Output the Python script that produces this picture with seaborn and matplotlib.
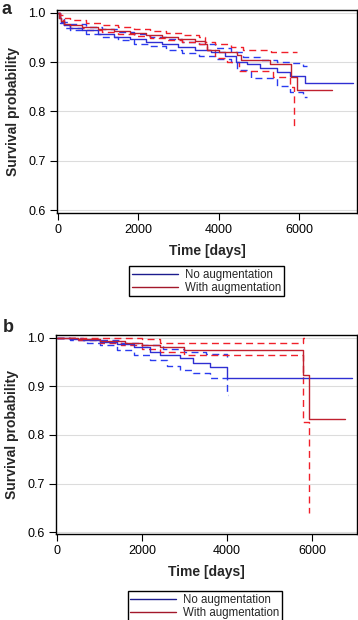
import numpy as np
import pandas as pd
import matplotlib
matplotlib.use("Agg")
import matplotlib.pyplot as plt
from matplotlib.lines import Line2D
import seaborn as sns

# ---------------- data (Kaplan-Meier steps) ----------------
# Panel a
a_no_t = [0, 30, 80, 150, 300, 600, 1000, 1400, 1800, 2200, 2600, 3000, 3400, 3800, 4150, 4440, 4700, 5030, 5450, 5780, 6150, 7350]
a_no_s = [1.0, 0.99, 0.982, 0.975, 0.970, 0.965, 0.958, 0.952, 0.947, 0.941, 0.936, 0.930, 0.925, 0.92, 0.913, 0.901, 0.896, 0.888, 0.881, 0.872, 0.858, 0.858]
a_no_up_t = [0, 50, 150, 300, 700, 1100, 1500, 1900, 2300, 2700, 3100, 3500, 3900, 4300, 4600, 5030, 5450, 5780, 6100, 6200]
a_no_up_s = [1.0, 0.99, 0.982, 0.977, 0.972, 0.967, 0.962, 0.957, 0.952, 0.947, 0.942, 0.937, 0.929, 0.921, 0.911, 0.905, 0.9, 0.898, 0.892, 0.892]
a_no_lo_t = [0, 50, 150, 300, 700, 1100, 1500, 1900, 2300, 2700, 3100, 3500, 3900, 4300, 4450, 4800, 5450, 5780, 6100, 6200]
a_no_lo_s = [1.0, 0.98, 0.97, 0.965, 0.958, 0.952, 0.945, 0.938, 0.932, 0.925, 0.918, 0.912, 0.906, 0.9, 0.884, 0.869, 0.852, 0.84, 0.829, 0.829]
a_aug_t = [0, 30, 80, 150, 300, 600, 1000, 1400, 1800, 2200, 2600, 3000, 3400, 3650, 3700, 4000, 4450, 4550, 5280, 5800, 5950, 6820]
a_aug_s = [1.0, 0.99, 0.983, 0.978, 0.975, 0.971, 0.967, 0.963, 0.959, 0.955, 0.951, 0.947, 0.943, 0.938, 0.925, 0.92, 0.915, 0.905, 0.896, 0.871, 0.843, 0.843]
a_aug_up_t = [0, 50, 150, 300, 700, 1100, 1500, 1900, 2300, 2700, 3100, 3500, 3650, 3900, 4300, 4600, 5300, 5950]
a_aug_up_s = [1.0, 0.996, 0.99, 0.985, 0.98, 0.976, 0.972, 0.968, 0.964, 0.96, 0.956, 0.952, 0.942, 0.937, 0.93, 0.925, 0.921, 0.921]
a_aug_lo_t = [0, 50, 150, 300, 700, 1100, 1500, 1900, 2300, 2700, 3100, 3500, 3700, 3900, 4200, 4500, 5350, 5780, 5870]
a_aug_lo_s = [1.0, 0.985, 0.975, 0.97, 0.966, 0.962, 0.958, 0.954, 0.950, 0.946, 0.942, 0.937, 0.925, 0.908, 0.9, 0.882, 0.87, 0.85, 0.77]

# Panel b
b_no_t = [0, 300, 600, 1000, 1400, 1800, 2200, 2420, 2900, 3200, 3600, 4000, 6940]
b_no_s = [1.0, 0.998, 0.995, 0.992, 0.987, 0.982, 0.972, 0.965, 0.958, 0.948, 0.941, 0.917, 0.917]
b_no_up_t = [0, 600, 1000, 1500, 2000, 2500, 3000, 3500, 4000]
b_no_up_s = [1.0, 0.998, 0.995, 0.99, 0.985, 0.978, 0.972, 0.966, 0.96]
b_no_lo_t = [0, 300, 700, 1000, 1400, 1800, 2200, 2600, 2900, 3200, 3600, 4000, 4020]
b_no_lo_s = [1.0, 0.995, 0.99, 0.985, 0.975, 0.965, 0.955, 0.942, 0.934, 0.928, 0.917, 0.882, 0.882]
b_aug_t = [0, 500, 1000, 1600, 2000, 2430, 3000, 5790, 5930, 6780]
b_aug_s = [1.0, 0.998, 0.993, 0.99, 0.986, 0.982, 0.975, 0.924, 0.832, 0.832]
b_aug_up_t = [0, 1000, 2000, 2430, 5790, 5930]
b_aug_up_s = [1.0, 0.999, 0.997, 0.99, 1.0, 1.0]
b_aug_lo_t = [0, 500, 1000, 1500, 2000, 2430, 3000, 5790, 5930, 5940]
b_aug_lo_s = [1.0, 0.995, 0.99, 0.985, 0.978, 0.972, 0.965, 0.826, 0.64, 0.64]

group_labels = ["No augmentation", "With augmentation"]
y_ticks = [0.6, 0.7, 0.8, 0.9, 1.0]
x_ticks = [0, 2000, 4000, 6000]

# ---------------- styling ----------------
sns.set_theme(style="white")
plt.rcParams["font.family"] = ["Liberation Sans", "DejaVu Sans"]

BLUE = "#2f2fd2"
BLUE_D = "#2a3cf0"
RED = "#c0202e"
RED_D = "#f0202a"
DASH = (0, (5, 3.2))

fig = plt.figure(figsize=(3.58, 6.2), dpi=100)
ax_a = fig.add_axes([57 / 358, 1 - 212.5 / 620, 300 / 358, 202.5 / 620])
ax_b = fig.add_axes([56 / 358, 1 - 534 / 620, 301 / 358, 199 / 620])


def draw(ax, series):
    for t, s, col, ls in series:
        df = pd.DataFrame({"t": t, "s": s})
        sns.lineplot(data=df, x="t", y="s", ax=ax, estimator=None, sort=False,
                     drawstyle="steps-post", color=col, linestyle=ls, linewidth=1.0)


draw(ax_a, [
    (a_no_up_t, a_no_up_s, BLUE_D, DASH),
    (a_no_lo_t, a_no_lo_s, BLUE_D, DASH),
    (a_aug_up_t, a_aug_up_s, RED_D, DASH),
    (a_aug_lo_t, a_aug_lo_s, RED_D, DASH),
    (a_no_t, a_no_s, BLUE, "-"),
    (a_aug_t, a_aug_s, RED, "-"),
])
draw(ax_b, [
    (b_no_up_t, b_no_up_s, BLUE_D, DASH),
    (b_no_lo_t, b_no_lo_s, BLUE_D, DASH),
    (b_aug_up_t, b_aug_up_s, RED_D, DASH),
    (b_aug_lo_t, b_aug_lo_s, RED_D, DASH),
    (b_no_t, b_no_s, BLUE, "-"),
    (b_aug_t, b_aug_s, RED, "-"),
])

for ax, xlim, ylim in [(ax_a, (-25, 7447), (0.595, 1.006)), (ax_b, (-24, 7060), (0.596, 1.006))]:
    ax.set_xlim(*xlim)
    ax.set_ylim(*ylim)
    ax.set_xticks(x_ticks)
    ax.set_yticks(y_ticks)
    ax.set_xticklabels([str(v) for v in x_ticks])
    ax.set_yticklabels([f"{v:.1f}" for v in y_ticks])
    ax.grid(axis="y", color="#dcdcdc", linewidth=0.8)
    ax.set_axisbelow(True)
    for sp in ax.spines.values():
        sp.set_color("black")
        sp.set_linewidth(1.0)
    ax.tick_params(axis="both", which="major", direction="out", length=5, width=0.8,
                   color="black", labelsize=9, labelcolor="black", pad=3,
                   bottom=True, left=True)
    ax.set_xlabel("Time [days]", fontsize=10, fontweight="bold", labelpad=6)
    ax.set_ylabel("Survival probability", fontsize=10, fontweight="bold", labelpad=6)

handles = [Line2D([], [], color="#1c1c8e", linewidth=1.0),
           Line2D([], [], color="#a3182a", linewidth=1.0)]

for ax, cx, top in [(ax_a, 206.5 / 358, 1 - 266 / 620), (ax_b, 205 / 358, 1 - 591 / 620)]:
    leg = ax.legend(handles, group_labels, loc="upper center", bbox_to_anchor=(cx, top),
                    bbox_transform=fig.transFigure, fontsize=8.3, frameon=True,
                    fancybox=False, edgecolor="black", framealpha=1,
                    handlelength=4.0, handletextpad=0.6, labelspacing=0.12,
                    borderpad=0.22, borderaxespad=0)
    leg.get_frame().set_linewidth(1.0)

fig.text(1 / 358, 1 - 0.5 / 620, "a", fontsize=13, fontweight="bold", va="top", ha="left")
fig.text(3 / 358, 1 - 327 / 620, "b", fontsize=13, fontweight="bold", va="center", ha="left")

fig.savefig("out.png", dpi=100, facecolor="white")
